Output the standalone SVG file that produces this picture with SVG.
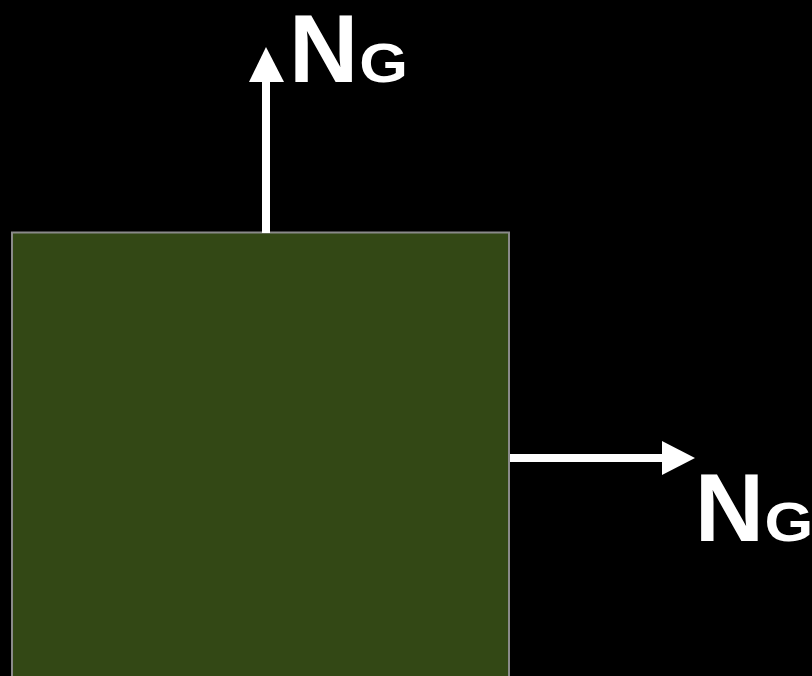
<svg xmlns="http://www.w3.org/2000/svg" width="812" height="676" viewBox="0 0 812 676">
  <style>
    .shaft { stroke: #ffffff; stroke-width: 8; fill: none; }
    .head { fill: #ffffff; }
    .lbl { font-family: "Liberation Sans", Arial, sans-serif; font-weight: bold; fill: #ffffff; }
    .big { font-size: 96px; }
    .sub { font-size: 56px; }
  </style>
  <rect x="0" y="0" width="812" height="676" fill="#000000"/>
  <g id="block">
    <rect x="12" y="232.5" width="497" height="460" fill="#334815" stroke="#8a8a8a" stroke-width="2"/>
  </g>
  <g id="connectors">
    <line class="shaft" x1="266" y1="233" x2="266" y2="80"/>
    <polygon class="head" points="249,82 266,47 284,82"/>
    <line class="shaft" x1="510" y1="458" x2="664" y2="458"/>
    <polygon class="head" points="662,441 695,458 662,475"/>
  </g>
  <g id="label-top">
    <text class="lbl big" x="289" y="82">N</text>
    <text class="lbl sub" transform="translate(359.2,82) scale(1.12,1)">G</text>
  </g>
  <g id="label-right">
    <text class="lbl big" x="694.7" y="541">N</text>
    <text class="lbl sub" transform="translate(764.5,541) scale(1.12,1)">G</text>
  </g>
</svg>
